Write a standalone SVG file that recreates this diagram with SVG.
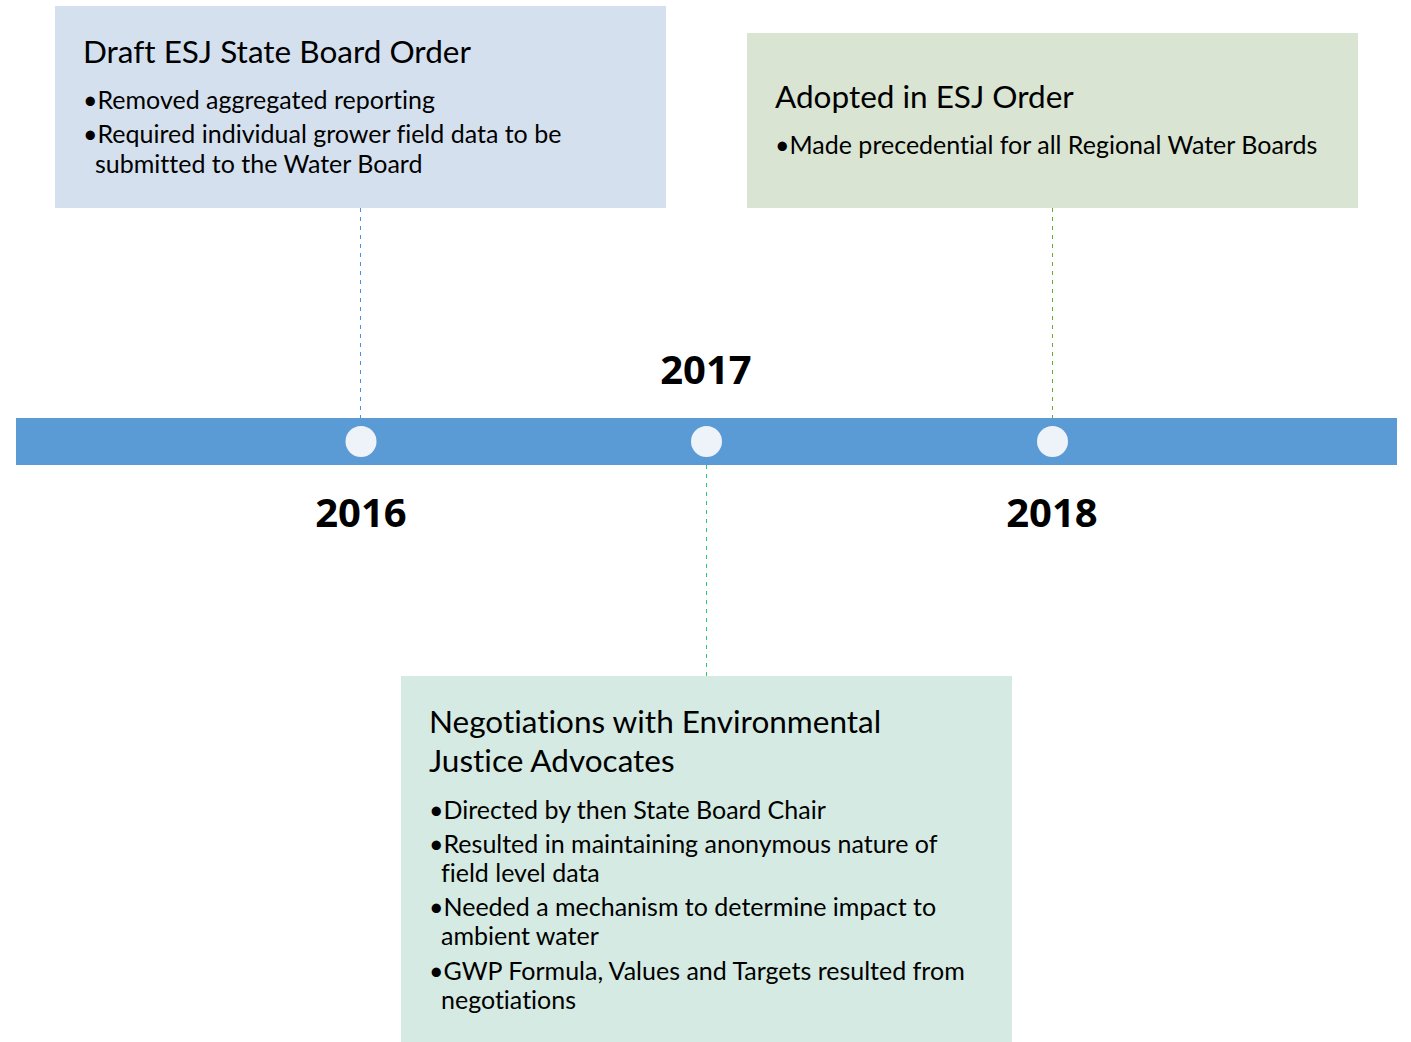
<svg xmlns="http://www.w3.org/2000/svg" width="1411" height="1042" viewBox="0 0 1411 1042">
<style>
.title{font-family:Lato,"Open Sans",sans-serif;font-size:31.5px;fill:#000;font-variant-ligatures:none}
.body{font-family:Lato,"Open Sans",sans-serif;font-size:25px;fill:#000;font-variant-ligatures:none}
.year{font-family:"Open Sans","Liberation Sans",sans-serif;font-weight:bold;font-size:40px;fill:#000;text-anchor:middle}
.dash{stroke-width:1;stroke-dasharray:4 5;fill:none}
.dot{fill:#eef3fa}
</style>
<rect width="1411" height="1042" fill="#ffffff"/>
<g id="connectors">
<line class="dash" x1="360.5" y1="208" x2="360.5" y2="418" stroke="#4a90e2"/>
<line class="dash" x1="1052.5" y1="208" x2="1052.5" y2="418" stroke="#5fb030"/>
<line class="dash" x1="706.5" y1="465" x2="706.5" y2="676" stroke="#2ecc71"/>
</g>
<g id="timeline">
<rect x="16" y="418" width="1381" height="47" fill="#5b9bd5"/>
<circle class="dot" cx="361" cy="441.5" r="15.5"/>
<circle class="dot" cx="706.5" cy="441.5" r="15.5"/>
<circle class="dot" cx="1052.5" cy="441.5" r="15.5"/>
</g>
<g id="year-2016"><text class="year" x="361" y="527">2016</text></g>
<g id="year-2017"><text class="year" x="706" y="384">2017</text></g>
<g id="year-2018"><text class="year" x="1052" y="527">2018</text></g>
<g id="node-draft">
<rect x="55" y="6" width="611" height="202" fill="#d5e0ee"/>
<text class="title" x="83" y="63">Draft ESJ State Board Order</text>
<text class="body" x="83" y="109">•Removed aggregated reporting</text>
<text class="body" x="83" y="143">•Required individual grower field data to be</text>
<text class="body" x="95" y="173">submitted to the Water Board</text>
</g>
<g id="node-adopted">
<rect x="747" y="33" width="611" height="175" fill="#d9e4d3"/>
<text class="title" x="775" y="108">Adopted in ESJ Order</text>
<text class="body" x="775" y="154">•Made precedential for all Regional Water Boards</text>
</g>
<g id="node-negotiations">
<rect x="401" y="676" width="611" height="366" fill="#d5eae2"/>
<text class="title" x="429" y="733">Negotiations with Environmental</text>
<text class="title" x="429" y="772">Justice Advocates</text>
<text class="body" x="429" y="819">•Directed by then State Board Chair</text>
<text class="body" x="429" y="853">•Resulted in maintaining anonymous nature of</text>
<text class="body" x="441" y="882">field level data</text>
<text class="body" x="429" y="916">•Needed a mechanism to determine impact to</text>
<text class="body" x="441" y="945">ambient water</text>
<text class="body" x="429" y="980">•GWP Formula, Values and Targets resulted from</text>
<text class="body" x="441" y="1009">negotiations</text>
</g>
</svg>
